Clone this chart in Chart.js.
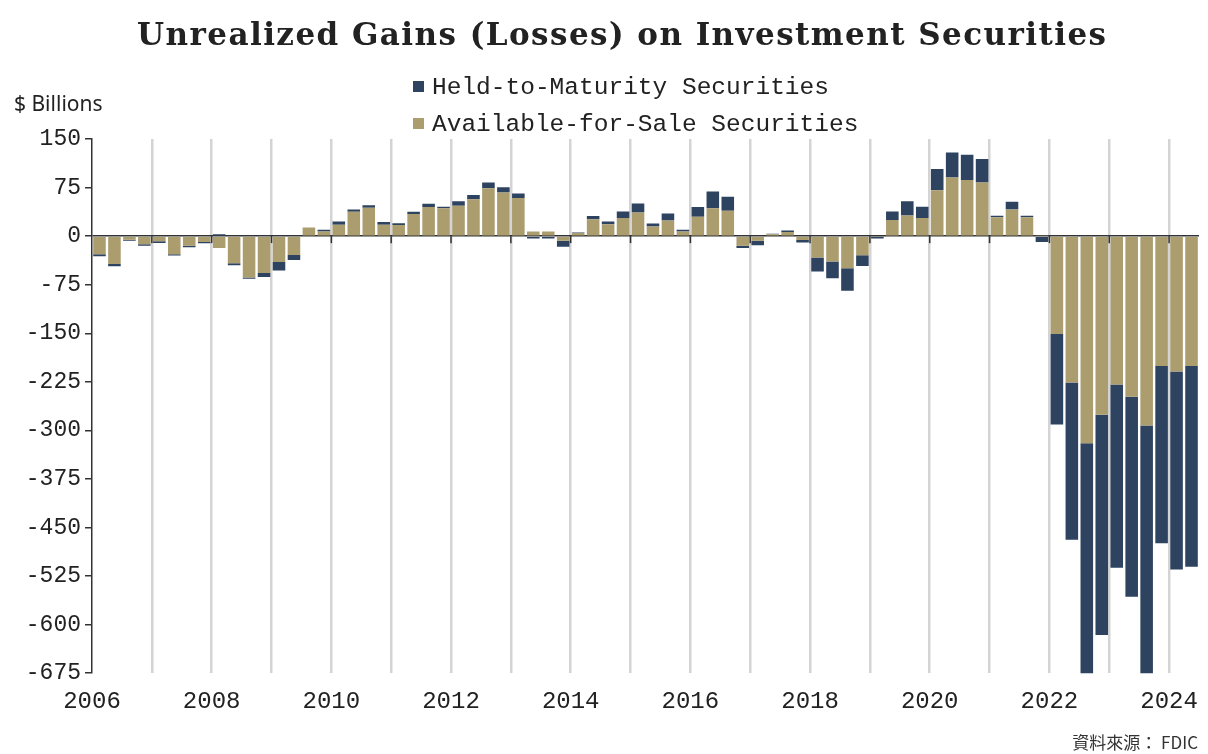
<!DOCTYPE html>
<html>
<head>
<meta charset="utf-8">
<script src="https://cdn.jsdelivr.net/npm/chart.js@4.4.1/dist/chart.umd.min.js"></script>
<style>
body { margin: 0; background: #fff; }
#wrap { position: relative; width: 1208px; height: 754px; overflow: hidden; }
#chart { position: absolute; left: 0; top: 0; }
.txt { position: absolute; white-space: nowrap; color: #222; }
#title { left: 137px; top: 14px; font: bold 31px 'DejaVu Serif', serif; line-height: 40px; }
.leg { left: 413px; font: 24.5px 'Liberation Mono', monospace; line-height: 30px; }
.leg span { display: inline-block; width: 11px; height: 11px; margin-right: 8px; vertical-align: 2px; }
#unit { left: 14px; top: 89px; font: 21px 'Noto Sans', sans-serif; line-height: 28px; }
#source { right: 10px; top: 730px; font: 17px 'Noto Sans CJK TC', sans-serif; line-height: 24px; color: #333; }
</style>
</head>
<body>
<div id="wrap">
  <canvas id="chart" width="1208" height="754"></canvas>
  <div id="title" class="txt">Unrealized Gains (Losses) on Investment Securities</div>
  <div class="txt leg" style="top:73px"><span style="background:#2d4360"></span>Held-to-Maturity Securities</div>
  <div class="txt leg" style="top:110px"><span style="background:#ac9d6f"></span>Available-for-Sale Securities</div>
  <div id="unit" class="txt">$ Billions</div>
  <div id="source" class="txt">資料來源： FDIC</div>
</div>
<script>
// quarterly, 2006Q1 - 2024Q2
var years = [2006, 2007, 2008, 2009, 2010, 2011, 2012, 2013, 2014, 2015, 2016, 2017, 2018, 2019, 2020, 2021, 2022, 2023, 2024];
var tickYears = ['2006', '2008', '2010', '2012', '2014', '2016', '2018', '2020', '2022', '2024'];

var availableForSale = [
    -28, -43, -5.5, -12.5,
    -8, -28, -15, -9,
    -18.5, -42, -64, -57,
    -40, -29, 13.5, 7,
    17.5, 37.5, 44, 17.5,
    17, 34, 45, 43,
    47, 57, 74, 67.5,
    59, 7, 7, -7,
    5, 26, 18.5, 28,
    36.5, 15, 24, 7,
    30, 43, 39, -15,
    -7, 3, 6.5, -6,
    -33, -39, -49.5, -29.5,
    -1, 25, 32, 28,
    71, 90.5, 86.5, 83,
    29, 41, 29, 1.5,
    -151, -226, -320, -276,
    -229, -248, -292.5, -200.5,
    -209, -200.5
];

var heldToMaturity = [
    -3, -3.5, -1.5, -2.5,
    -2.5, -2, -2, -2,
    3, -3, -2, -6,
    -13, -8, 0, 3,
    5, 3.5, 3.5, 4.5,
    3, 3.5, 5, 2.5,
    7, 6.5, 9, 8,
    7, -3.5, -3.5, -9.5,
    0.5, 5, 4, 10,
    14, 4.5, 11, 3,
    15, 26, 22, -3.5,
    -7, 0.5, 2, -4,
    -21.5, -26, -35, -16.5,
    -2.5, 13, 22, 17.5,
    32.5, 38.5, 39, 36,
    2.5, 12, 2.5, -9,
    -140, -243, -370, -340,
    -283, -309, -391, -274,
    -306, -310
];

var quarters = [];
for (let y of years) {
    for (let q = 1; q <= 4; q++) {
        if (quarters.length < availableForSale.length) quarters.push(y + 'Q' + q);
    }
}

// stretch title to the reference width
var t = document.getElementById('title');
var n = t.textContent.length;
t.style.letterSpacing = ((971 - t.offsetWidth) / n) + 'px';

var yearTicks = {
    id: 'yearTicks',
    afterDraw(chart) {
        var x = chart.scales.x, y = chart.scales.y, c = chart.ctx;
        var y0 = y.getPixelForValue(0);
        c.save();
        c.strokeStyle = '#333';
        c.lineWidth = 1.5;
        for (let i = 4; i < quarters.length; i += 4) {
            var px = (x.getPixelForValue(i) + x.getPixelForValue(i - 1)) / 2;
            c.beginPath();
            c.moveTo(px, y0);
            c.lineTo(px, y0 + 7);
            c.stroke();
        }
        c.restore();
    }
};

new Chart(document.getElementById('chart'), {
    type: 'bar',
    data: {
        labels: quarters,
        datasets: [{
            label: 'Available-for-Sale Securities',
            data: availableForSale,
            backgroundColor: '#ac9d6f',
            barPercentage: 0.84,
            categoryPercentage: 1
        }, {
            label: 'Held-to-Maturity Securities',
            data: heldToMaturity,
            backgroundColor: '#2d4360',
            barPercentage: 0.84,
            categoryPercentage: 1
        }]
    },
    options: {
        responsive: false,
        animation: false,
        devicePixelRatio: 1,
        layout: { padding: { left: 0, right: 9, top: 139, bottom: 24 } },
        plugins: {
            legend: { display: false },
            tooltip: { enabled: false }
        },
        scales: {
            x: {
                stacked: true,
                border: { display: false },
                grid: {
                    offset: true,
                    drawTicks: false,
                    lineWidth: 2.5,
                    color: (ctx) => (ctx.index % 4 === 0 && ctx.index > 0 && ctx.index < quarters.length) ? '#d4d4d4' : 'rgba(0,0,0,0)'
                },
                ticks: {
                    autoSkip: false,
                    maxRotation: 0,
                    padding: 14,
                    labelOffset: -7.5,
                    color: '#222',
                    font: { family: 'Liberation Mono', size: 24 },
                    callback: (val, i) => i % 8 === 0 ? tickYears[i / 8] : ''
                }
            },
            y: {
                stacked: true,
                min: -675,
                max: 150,
                z: 1,
                afterFit: (s) => { s.width = 92; },
                border: { display: true, color: '#333', width: 1.5 },
                grid: {
                    color: (ctx) => (ctx.tick && ctx.tick.value === 0) ? '#333' : 'rgba(0,0,0,0)',
                    tickColor: '#333',
                    tickLength: 7,
                    lineWidth: 1.5
                },
                ticks: {
                    stepSize: 75,
                    padding: 4,
                    color: '#222',
                    font: { family: 'Liberation Mono', size: 23 }
                }
            }
        }
    },
    plugins: [yearTicks]
});
</script>
</body>
</html>
